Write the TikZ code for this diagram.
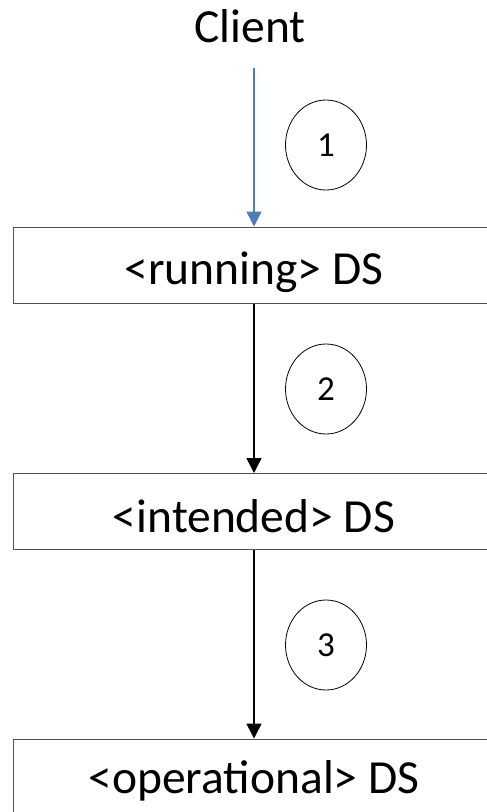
\documentclass[tikz,border=0pt]{standalone}
\usepackage{fontspec}
\setmainfont{Carlito}
\usetikzlibrary{positioning,arrows.meta,shapes.geometric}

\definecolor{clientblue}{HTML}{4A7EBB}
\definecolor{boxgrey}{HTML}{505050}

\begin{document}
\begin{tikzpicture}[
    x=1pt,y=-1pt,
    datastore/.style={rectangle,draw=boxgrey,line width=1pt,minimum width=481pt,minimum height=76pt,inner sep=0pt,
      text height=38pt,text depth=0pt,font=\fontsize{47.5}{57}\selectfont},
    stepnum/.style={ellipse,draw,line width=0.8pt,minimum width=81pt,minimum height=90pt,inner sep=0pt,font=\fontsize{35}{42}\selectfont},
    flow/.style={-{Triangle[length=15pt,width=15pt]},line width=1.5pt},
    ]

    \useasboundingbox (0,0) rectangle (487,812);

    \node (client) [anchor=base,font=\fontsize{47.5}{57}\selectfont] at (250,42) {Client};
    \coordinate (clientout) at (254,68);

    \node (running) [datastore] at (254,265) {<running> DS};
    \node (intended) [datastore,text height=41pt] at (254,511.5) {<intended> DS};
    \node (operational) [datastore,text height=32pt] at (254,777) {<operational> DS};

    \node (s1) [stepnum] at (326,145) {1};
    \node (s2) [stepnum] at (326,389) {2};
    \node (s3) [stepnum] at (326,645) {3};

    \draw[flow,clientblue] (clientout) -- (running.north -| clientout);
    \draw[flow] (running.south -| clientout) -- (intended.north -| clientout);
    \draw[flow] (intended.south -| clientout) -- (operational.north -| clientout);

  \end{tikzpicture}
\end{document}
